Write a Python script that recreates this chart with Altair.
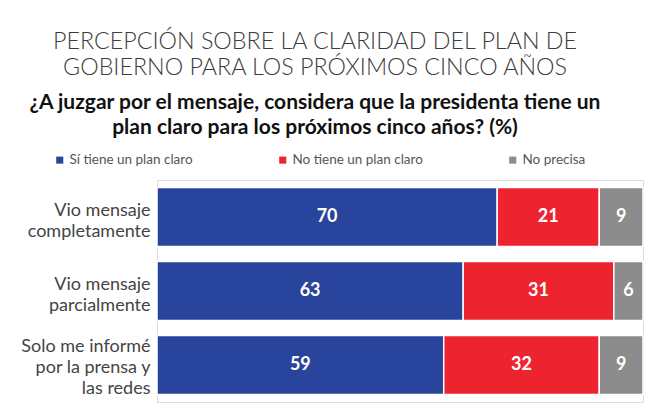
import altair as alt
import pandas as pd

categories = ["Vio mensaje\ncompletamente", "Vio mensaje\nparcialmente",
              "Solo me informé\npor la prensa y\nlas redes"]
series = ["Sí tiene un plan claro", "No tiene un plan claro", "No precisa"]
si_tiene = [70, 63, 59]
no_tiene = [21, 31, 32]
no_precisa = [9, 6, 9]
colors = ["#28449C", "#EE2330", "#8C8C8C"]

rows = []
for i, cat in enumerate(categories):
    for j, (name, vals) in enumerate(zip(series, [si_tiene, no_tiene, no_precisa])):
        rows.append({"cat": cat, "serie": name, "orden": j, "valor": vals[i]})
df = pd.DataFrame(rows)

FONT = "Lato"

base = alt.Chart(df).transform_stack(
    stack="valor", groupby=["cat"], as_=["x0", "x1"],
    sort=[alt.SortField("orden", order="ascending")]
).transform_calculate(mid="(datum.x0 + datum.x1) / 2")

y_enc = alt.Y("cat:N", sort=categories, title=None,
              scale=alt.Scale(paddingInner=0.2, paddingOuter=0.1),
              axis=alt.Axis(labelExpr="split(datum.label, '\\n')", labelFont=FONT,
                            labelFontSize=18, labelColor="#444444", labelLineHeight=21,
                            labelOffset={"condition": {
                                "test": "length(split(datum.value, '\\n')) > 2",
                                "value": -18}, "value": -6},
                            labelPadding=7, ticks=False, domainColor="#DDDDDD",
                            labelLimit=200))

bars = base.mark_bar(stroke="white", strokeWidth=1.5).encode(
    x=alt.X("x0:Q", scale=alt.Scale(domain=[0, 100]), axis=None),
    x2="x1:Q",
    y=y_enc,
    color=alt.Color("serie:N", sort=series,
                    scale=alt.Scale(domain=series, range=colors),
                    legend=alt.Legend(title=None, orient="none", legendX=-104, legendY=-27,
                                      direction="horizontal", symbolType="square",
                                      symbolSize=50, symbolStrokeWidth=0,
                                      labelFont=FONT, labelFontSize=13.5,
                                      labelColor="#555555", labelOffset=3,
                                      columnPadding=83)),
)

labels = base.mark_text(color="white", font=FONT, fontWeight="bold", fontSize=18).encode(
    x=alt.X("mid:Q", scale=alt.Scale(domain=[0, 100])),
    y=alt.Y("cat:N", sort=categories),
    text="valor:Q",
)

chart = alt.layer(bars, labels).properties(
    width=486, height=222,
    autosize=alt.AutoSizeParams(type="none"),
    padding={"left": 149, "top": 172, "right": 11, "bottom": 10},
    title=alt.TitleParams(
        text=["PERCEPCIÓN SOBRE LA CLARIDAD DEL PLAN DE",
              "GOBIERNO PARA LOS PRÓXIMOS CINCO AÑOS"],
        subtitle=["¿A juzgar por el mensaje, considera que la presidenta tiene un",
                  "plan claro para los próximos cinco años? (%)"],
        anchor="middle", dx=-85, font=FONT, fontSize=23.3, fontWeight=300,
        color="#3C3C3C", lineHeight=26,
        subtitleFont=FONT, subtitleFontSize=21, subtitleFontWeight="bold",
        subtitleColor="#111111", subtitleLineHeight=25, subtitlePadding=12,
        offset=14,
    ),
).configure_view(stroke=None).configure(background="white")

chart.save("out.html", embed_options={"renderer": "svg", "actions": False})
